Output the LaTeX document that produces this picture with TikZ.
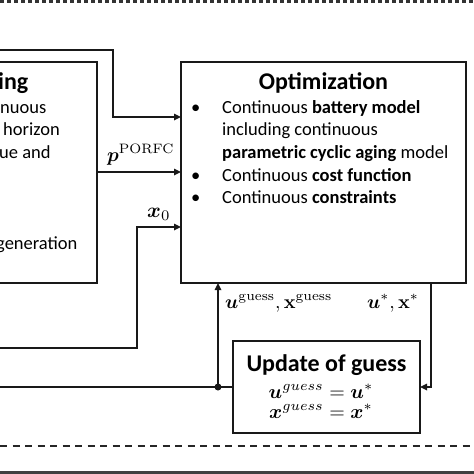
\documentclass[tikz,border=0pt]{standalone}
\usepackage{amsmath,bm}
\usepackage[no-math]{fontspec}
\setmainfont{Carlito}
\usetikzlibrary{arrows.meta}
\newcommand{\bigmath}[2]{\scalebox{#1}{\fontsize{10}{12}\selectfont$#2$}}
\begin{document}
\begin{tikzpicture}[x=1pt,y=-1pt,
  box/.style={draw=black!90, line width=1.6pt, inner sep=0pt, outer sep=0pt},
  conn/.style={draw=black!90, line width=1.6pt},
  arr/.style={conn, -{Triangle[length=7pt,width=6.5pt]}},
  body/.style={font=\fontsize{18.5}{22}\selectfont, anchor=base west, inner sep=0pt},
  ttl/.style={font=\fontsize{24}{28}\selectfont\bfseries, anchor=base, inner sep=0pt},
  lbl/.style={anchor=base west, inner sep=0pt},
  eqn/.style={anchor=base, inner sep=0pt}]
\useasboundingbox (0,0) rectangle (474,474);
\clip (0,0) rectangle (474,474);

% separators
\draw[line width=2.6pt, draw=black!80, dash pattern=on 4pt off 3pt] (0,1.3) -- (474,1.3);
\draw[line width=2pt, draw=black!85, dash pattern=on 7pt off 5.5pt] (0,446) -- (474,446);
\draw[line width=3pt, draw=black!75] (0,472.5) -- (474,472.5);

% boxes
\node[box, minimum width=157pt, minimum height=221pt] (left) at (18.5,172.5) {};
\node[box, minimum width=285pt, minimum height=221pt] (opt) at (323.5,172.5) {};
\node[box, minimum width=187pt, minimum height=92pt] (upd) at (326.5,387) {};

% left box text (clipped)
\node[ttl, anchor=base west] (lt) at (-2,89) {ing};
\node[body] (l1) at (0,113) {nuous};
\node[body] (l2) at (3,135.7) {horizon};
\node[body] (l3) at (-1,158.4) {ue and};
\node[body] (l4) at (-4,249) {generation};

% optimization text
\node[ttl] (ot) at (323.5,89) {Optimization};
\node[body] (b1) at (191,113) {•};
\node[body] (o1) at (222,113) {Continuous \textbf{battery model}};
\node[body] (o2) at (222,135.7) {including continuous};
\node[body] (o3) at (222,158.4) {\textbf{parametric cyclic aging} model};
\node[body] (b4) at (191,181.1) {•};
\node[body] (o4) at (222,181.1) {Continuous \textbf{cost function}};
\node[body] (b5) at (191,203.8) {•};
\node[body] (o5) at (222,203.8) {Continuous \textbf{constraints}};

% update text
\node[ttl] (ut) at (326.5,371) {Update of guess};
\node[eqn] (e1) at (321,398) {\bigmath{2.0}{\bm{u}^{guess}=\bm{u}^{*}}};
\node[eqn] (e2) at (321,418) {\bigmath{2.0}{\bm{x}^{guess}=\bm{x}^{*}}};

% labels
\node[lbl] (pl) at (107,161) {\bigmath{1.95}{\bm{p}^{\mathrm{PORFC}}}};
\node[lbl] (xl) at (147,217) {\bigmath{2.1}{\bm{x}_0}};
\node[lbl] (gl) at (225,308) {\bigmath{1.95}{\bm{u}^{\mathrm{guess}},\mathbf{x}^{\mathrm{guess}}}};
\node[lbl] (sl) at (367,308) {\bigmath{1.95}{\bm{u}^{*},\mathbf{x}^{*}}};

% connectors
\coordinate (inA) at (-5,50);
\coordinate (k1) at (113,117);
\draw[arr] (inA) -| (k1) -- (k1 -| opt.west);

\coordinate (kp) at (97,172);
\draw[arr] (kp -| left.east) -- (kp -| opt.west);

\coordinate (inB) at (-5,348);
\coordinate (k2) at (137,227);
\draw[arr] (inB) -| (k2) -- (k2 -| opt.west);

\coordinate (k3) at (431,387);
\draw[arr] (opt.south -| k3) |- (upd.east);

\coordinate (outB) at (-5,387);
\coordinate (dot) at (218,387);
\draw[conn] (upd.west) -- (outB);
\fill[black!90] (dot) circle (3.5pt);
\draw[arr] (dot) -- (dot |- opt.south);
\end{tikzpicture}
\end{document}
